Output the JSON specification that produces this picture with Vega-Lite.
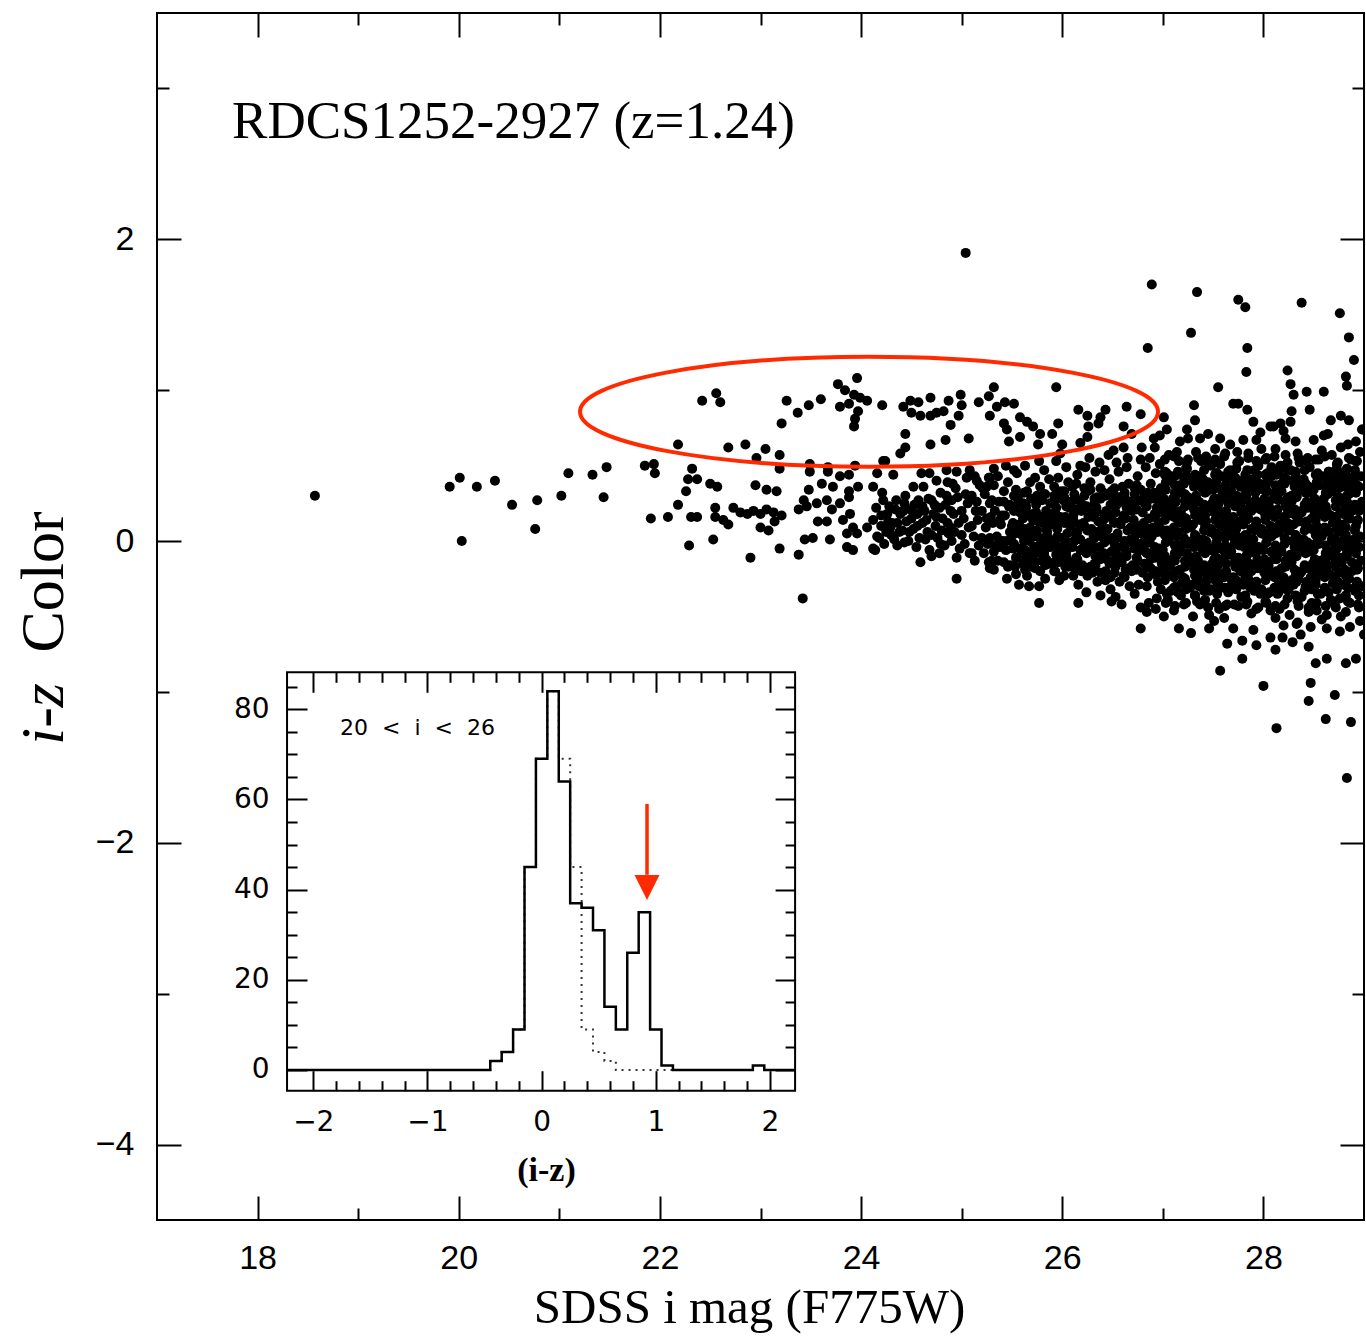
{
"$schema":"https://vega.github.io/schema/vega-lite/v6.json",
"width":1207,"height":1207,
"autosize":{"type":"none"},
"padding":{"left":157,"top":13,"right":2,"bottom":121},
"background":"white",
"config":{"view":{"stroke":"black","strokeWidth":2},"axis":{"grid":false,"domain":false,"tickColor":"black","tickWidth":2,"labelColor":"black","titleColor":"black","labelFlush":false,"labelOverlap":false,"zindex":1}},
"datasets":{
"hist":[{"hx":-2.23,"n":0},{"hx":-0.45,"n":2},{"hx":-0.35,"n":4},{"hx":-0.25,"n":9},{"hx":-0.15,"n":45},{"hx":-0.05,"n":69},{"hx":0.05,"n":84},{"hx":0.15,"n":64},{"hx":0.25,"n":37},{"hx":0.35,"n":36},{"hx":0.45,"n":31},{"hx":0.55,"n":14},{"hx":0.65,"n":9},{"hx":0.75,"n":26},{"hx":0.85,"n":35},{"hx":0.95,"n":9},{"hx":1.05,"n":1},{"hx":1.15,"n":0},{"hx":1.85,"n":1},{"hx":1.95,"n":0},{"hx":2.22,"n":0}],
"mirror":[{"hx":-2.23,"n":0},{"hx":-0.45,"n":2},{"hx":-0.35,"n":4},{"hx":-0.25,"n":9},{"hx":-0.15,"n":45},{"hx":-0.05,"n":69},{"hx":0.05,"n":84},{"hx":0.15,"n":69},{"hx":0.25,"n":45},{"hx":0.35,"n":9},{"hx":0.45,"n":4},{"hx":0.55,"n":2},{"hx":0.65,"n":0},{"hx":1.15,"n":0}],
"pts":[
{"m":18.57,"c":0.30},{"m":19.91,"c":0.36},{"m":20.01,"c":0.42},{"m":20.03,"c":0.00},{"m":20.18,"c":0.36},{"m":20.36,"c":0.40},{"m":20.53,"c":0.24},{"m":20.78,"c":0.27},{"m":20.76,"c":0.08},{"m":21.02,"c":0.30},{"m":21.09,"c":0.45},{"m":21.33,"c":0.44},{"m":21.44,"c":0.29},{"m":21.47,"c":0.49},{"m":21.85,"c":0.50},{"m":21.94,"c":0.51},{"m":21.95,"c":0.45},{"m":21.91,"c":0.15},{"m":22.08,"c":0.16},{"m":22.18,"c":0.64},{"m":22.29,"c":-0.03},{"m":22.32,"c":0.48},{"m":22.26,"c":0.33},{"m":22.18,"c":0.24},{"m":22.28,"c":0.41},{"m":22.37,"c":0.41},{"m":22.31,"c":0.16},{"m":22.37,"c":0.16},
{"m":22.42,"c":0.93},{"m":22.56,"c":0.98},{"m":22.60,"c":0.92},{"m":23.26,"c":0.93},{"m":23.21,"c":0.78},{"m":23.37,"c":0.85},{"m":23.48,"c":0.90},{"m":23.60,"c":0.94},{"m":23.96,"c":1.08},{"m":23.77,"c":1.04},{"m":23.84,"c":1.00},{"m":23.79,"c":0.89},{"m":23.88,"c":0.91},{"m":23.93,"c":0.97},{"m":23.99,"c":0.95},{"m":24.06,"c":0.93},{"m":23.97,"c":0.86},{"m":23.94,"c":0.81},{"m":23.93,"c":0.76},{"m":24.21,"c":0.90},{"m":24.42,"c":0.89},{"m":24.49,"c":0.93},{"m":24.57,"c":0.92},{"m":24.69,"c":0.95},{"m":24.87,"c":0.93},{"m":24.50,"c":0.85},{"m":24.59,"c":0.83},{"m":24.69,"c":0.83},{"m":24.75,"c":0.85},{"m":24.82,"c":0.86},{"m":24.99,"c":0.97},{"m":25.00,"c":0.90},{"m":24.97,"c":0.83},{"m":24.89,"c":0.77},{"m":25.17,"c":0.92},{"m":25.27,"c":0.96},{"m":25.32,"c":1.02},{"m":25.35,"c":0.89},{"m":25.28,"c":0.83},{"m":25.07,"c":0.68},{"m":24.84,"c":0.67},{"m":24.69,"c":0.64},{"m":24.44,"c":0.71},{"m":24.44,"c":0.62},{"m":24.39,"c":0.58},{"m":24.22,"c":0.53},
{"m":22.68,"c":0.62},{"m":22.85,"c":0.64},{"m":23.05,"c":0.61},{"m":23.19,"c":0.57},{"m":22.96,"c":0.55},{"m":23.19,"c":0.48},{"m":23.49,"c":0.51},{"m":23.49,"c":0.46},{"m":23.67,"c":0.49},{"m":23.67,"c":0.46},{"m":23.94,"c":0.50},{"m":23.88,"c":0.44},{"m":23.79,"c":0.43},{"m":24.16,"c":0.45},{"m":24.32,"c":0.44},{"m":24.24,"c":0.53},{"m":24.60,"c":0.45},{"m":24.85,"c":0.47},{"m":24.95,"c":0.46},{"m":25.08,"c":0.47},{"m":25.15,"c":0.40},{"m":25.25,"c":0.36},{"m":25.28,"c":0.42},
{"m":22.50,"c":0.38},{"m":22.57,"c":0.36},{"m":22.55,"c":0.22},{"m":22.55,"c":0.16},{"m":22.63,"c":0.14},{"m":22.68,"c":0.11},{"m":22.73,"c":0.22},{"m":22.80,"c":0.19},{"m":22.87,"c":0.18},{"m":22.93,"c":0.20},{"m":23.00,"c":0.18},{"m":23.06,"c":0.21},{"m":23.13,"c":0.19},{"m":23.21,"c":0.17},{"m":22.95,"c":0.37},{"m":23.06,"c":0.34},{"m":23.16,"c":0.33},{"m":23.00,"c":0.09},{"m":23.08,"c":0.07},{"m":23.14,"c":0.13},{"m":22.53,"c":0.01},{"m":22.90,"c":-0.11},{"m":23.19,"c":-0.05},{"m":23.38,"c":-0.09},{"m":23.42,"c":-0.38},
{"m":23.38,"c":0.21},{"m":23.43,"c":0.27},{"m":23.48,"c":0.34},{"m":23.46,"c":0.23},{"m":23.56,"c":0.25},{"m":23.66,"c":0.27},{"m":23.71,"c":0.21},{"m":23.79,"c":0.25},{"m":23.57,"c":0.13},{"m":23.66,"c":0.13},{"m":23.44,"c":0.01},{"m":23.52,"c":0.02},{"m":23.69,"c":0.01},{"m":23.86,"c":-0.04},{"m":23.92,"c":-0.06},{"m":23.61,"c":0.38},{"m":23.72,"c":0.36},{"m":23.88,"c":0.33},{"m":23.88,"c":0.29},{"m":23.97,"c":0.36},{"m":24.12,"c":0.36},{"m":24.21,"c":0.32},{"m":23.82,"c":0.14},{"m":23.89,"c":0.18},{"m":23.92,"c":0.09},{"m":23.86,"c":0.05},{"m":23.96,"c":0.05},{"m":24.06,"c":0.09},{"m":24.12,"c":0.14},{"m":24.16,"c":0.03},{"m":24.12,"c":-0.05},{"m":24.26,"c":0.18},{"m":24.29,"c":0.09},{"m":24.33,"c":0.01},{"m":24.39,"c":0.18},{"m":24.43,"c":0.25},{"m":24.41,"c":0.07},{"m":24.52,"c":0.36},{"m":24.56,"c":0.18},{"m":24.62,"c":0.36},{"m":24.64,"c":0.01},{"m":24.59,"c":-0.14},{"m":24.72,"c":0.18},{"m":24.79,"c":0.32},{"m":24.89,"c":0.09},{"m":24.95,"c":-0.25},{"m":24.70,"c":-0.10},{"m":24.78,"c":-0.08},{"m":24.14,"c":-0.06},
{"m":24.18,"c":0.02},{"m":24.15,"c":0.22},{"m":24.23,"c":-0.02},{"m":24.25,"c":0.06},{"m":24.22,"c":0.27},{"m":24.31,"c":0.12},{"m":24.34,"c":0.21},{"m":24.36,"c":-0.03},{"m":24.38,"c":0.06},{"m":24.45,"c":0.13},{"m":24.47,"c":0.00},{"m":24.44,"c":0.30},{"m":24.49,"c":0.21},{"m":24.52,"c":0.08},{"m":24.55,"c":-0.04},{"m":24.57,"c":0.27},{"m":24.61,"c":0.12},{"m":24.63,"c":0.20},{"m":24.66,"c":0.06},{"m":24.68,"c":-0.06},{"m":24.70,"c":0.27},{"m":24.74,"c":0.10},{"m":24.76,"c":0.02},{"m":24.78,"c":0.22},{"m":24.81,"c":0.15},{"m":24.83,"c":-0.03},{"m":24.85,"c":0.30},{"m":24.87,"c":0.05},{"m":24.89,"c":0.20},{"m":24.91,"c":0.38},{"m":24.86,"c":0.39},{"m":24.75,"c":0.40},{"m":24.68,"c":0.45},
{"m":24.20,"c":0.10},{"m":24.20,"c":0.17},{"m":24.27,"c":0.13},{"m":24.28,"c":0.23},{"m":24.30,"c":0.04},{"m":24.35,"c":0.27},{"m":24.36,"c":0.12},{"m":24.42,"c":0.20},{"m":24.43,"c":-0.01},{"m":24.48,"c":0.06},{"m":24.50,"c":0.15},{"m":24.53,"c":0.24},{"m":24.56,"c":0.10},{"m":24.58,"c":0.02},{"m":24.61,"c":0.23},{"m":24.65,"c":0.14},{"m":24.67,"c":0.28},{"m":24.70,"c":0.04},{"m":24.73,"c":0.24},{"m":24.75,"c":0.16},{"m":24.79,"c":-0.02},{"m":24.80,"c":0.07},{"m":24.84,"c":0.24},{"m":24.86,"c":0.12},{"m":24.90,"c":0.00},{"m":24.90,"c":0.27},{"m":25.00,"c":0.04},{"m":25.00,"c":0.20},{"m":25.10,"c":-0.08},{"m":25.10,"c":0.10},{"m":25.10,"c":0.30},{"m":25.20,"c":0.02},{"m":25.20,"c":0.20},{"m":25.21,"c":0.35},
{"m":25.04,"c":1.91},{"m":26.89,"c":1.70},{"m":27.34,"c":1.65},{"m":27.75,"c":1.60},{"m":27.82,"c":1.55},{"m":28.38,"c":1.58},{"m":28.76,"c":1.51},{"m":27.28,"c":1.38},{"m":26.85,"c":1.28},{"m":27.84,"c":1.28},{"m":28.85,"c":1.35},{"m":28.90,"c":1.20},{"m":27.83,"c":1.12},{"m":28.24,"c":1.13},{"m":28.82,"c":1.09},{"m":28.83,"c":1.03},{"m":27.55,"c":1.02},{"m":25.94,"c":1.02},{"m":28.27,"c":1.04},{"m":28.30,"c":0.97},{"m":28.43,"c":0.99},{"m":28.60,"c":0.99},{"m":27.31,"c":0.90},{"m":27.70,"c":0.91},{"m":27.75,"c":0.91},{"m":27.84,"c":0.87},{"m":27.32,"c":0.80},{"m":27.90,"c":0.79},{"m":28.28,"c":0.86},{"m":28.46,"c":0.87},{"m":28.67,"c":0.80},{"m":28.77,"c":0.83},{"m":28.85,"c":0.80},{"m":28.07,"c":0.76},{"m":28.17,"c":0.78},{"m":28.27,"c":0.79},{"m":28.99,"c":0.74},
{"m":25.43,"c":0.92},{"m":25.52,"c":0.91},{"m":25.42,"c":0.78},{"m":25.45,"c":0.74},{"m":25.58,"c":0.82},{"m":25.65,"c":0.79},{"m":25.71,"c":0.76},{"m":25.78,"c":0.71},{"m":25.90,"c":0.71},{"m":25.96,"c":0.78},{"m":26.16,"c":0.87},{"m":26.25,"c":0.83},{"m":26.26,"c":0.76},{"m":26.25,"c":0.69},{"m":26.18,"c":0.65},{"m":26.38,"c":0.82},{"m":26.43,"c":0.87},{"m":26.36,"c":0.78},{"m":26.64,"c":0.89},{"m":26.78,"c":0.84},{"m":26.61,"c":0.76},{"m":26.69,"c":0.71},{"m":25.47,"c":0.66},{"m":25.58,"c":0.69},{"m":25.76,"c":0.64},{"m":26.00,"c":0.64},{"m":25.98,"c":0.58},{"m":25.32,"c":0.48},{"m":25.52,"c":0.47},
{"m":26.51,"c":0.60},{"m":26.61,"c":0.62},{"m":26.79,"c":0.62},{"m":26.91,"c":0.68},{"m":27.01,"c":0.82},{"m":27.04,"c":0.74},{"m":26.97,"c":0.70},{"m":27.17,"c":0.66},{"m":27.25,"c":0.68},{"m":27.24,"c":0.74},{"m":27.37,"c":0.68},{"m":27.45,"c":0.71},{"m":27.57,"c":0.68},{"m":27.67,"c":0.64},{"m":27.80,"c":0.67},{"m":27.93,"c":0.67},{"m":27.97,"c":0.72},{"m":28.10,"c":0.76},{"m":28.22,"c":0.68},{"m":28.20,"c":0.73},{"m":28.32,"c":0.66},{"m":28.50,"c":0.67},{"m":28.60,"c":0.70},{"m":28.64,"c":0.71},{"m":28.84,"c":0.64},{"m":28.92,"c":0.66},{"m":28.98,"c":0.74},
{"m":25.28,"c":-0.18},{"m":25.45,"c":-0.25},{"m":25.57,"c":-0.29},{"m":25.67,"c":-0.30},{"m":25.77,"c":-0.30},{"m":25.77,"c":-0.41},{"m":26.16,"c":-0.41},{"m":26.38,"c":-0.36},{"m":26.49,"c":-0.40},{"m":26.59,"c":-0.42},{"m":26.78,"c":-0.58},{"m":26.84,"c":-0.47},{"m":27.01,"c":-0.50},{"m":26.78,"c":-0.44},{"m":26.93,"c":-0.45},{"m":27.11,"c":-0.46},{"m":27.16,"c":-0.58},{"m":27.28,"c":-0.61},{"m":27.30,"c":-0.50},{"m":27.46,"c":-0.49},{"m":27.51,"c":-0.53},{"m":27.46,"c":-0.58},{"m":27.61,"c":-0.51},{"m":27.57,"c":-0.86},{"m":27.64,"c":-0.68},{"m":27.70,"c":-0.58},{"m":27.79,"c":-0.66},{"m":27.79,"c":-0.78},{"m":27.90,"c":-0.59},{"m":27.93,"c":-0.69},{"m":28.00,"c":-0.96},{"m":28.07,"c":-0.64},{"m":28.12,"c":-0.72},{"m":28.19,"c":-0.64},{"m":28.29,"c":-0.67},{"m":28.37,"c":-0.62},{"m":28.45,"c":-0.70},{"m":28.13,"c":-1.24},{"m":28.47,"c":-0.94},{"m":28.45,"c":-1.06},{"m":28.62,"c":-1.18},{"m":28.71,"c":-1.02},{"m":28.87,"c":-1.20},{"m":28.83,"c":-1.57},{"m":28.82,"c":-0.81},{"m":28.92,"c":-0.78},{"m":28.52,"c":-0.81},{"m":28.63,"c":-0.78},{"m":28.63,"c":-0.58},{"m":28.76,"c":-0.60},{"m":28.86,"c":-0.57},{"m":29.00,"c":-0.62},{"m":28.20,"c":-0.56},{"m":28.33,"c":-0.55},{"m":28.47,"c":-0.57},
{"m":24.95,"c":-0.11},{"m":24.98,"c":-0.05},{"m":24.93,"c":0.06},{"m":24.97,"c":0.12},{"m":24.92,"c":0.18},{"m":24.96,"c":0.29},{"m":24.94,"c":0.35},
{"m":25.08,"c":-0.08},{"m":25.03,"c":-0.02},{"m":25.07,"c":0.09},{"m":25.02,"c":0.15},{"m":25.06,"c":0.25},{"m":25.04,"c":0.31},{"m":25.05,"c":0.42},
{"m":25.13,"c":-0.13},{"m":25.17,"c":-0.03},{"m":25.12,"c":0.03},{"m":25.16,"c":0.14},{"m":25.14,"c":0.20},{"m":25.15,"c":0.26},{"m":25.18,"c":0.37},{"m":25.13,"c":0.43},
{"m":25.27,"c":-0.14},{"m":25.22,"c":-0.08},{"m":25.26,"c":-0.02},{"m":25.24,"c":0.09},{"m":25.25,"c":0.15},{"m":25.28,"c":0.25},{"m":25.23,"c":0.31},{"m":25.27,"c":0.42},
{"m":25.32,"c":-0.19},{"m":25.36,"c":-0.13},{"m":25.34,"c":-0.03},{"m":25.35,"c":0.03},{"m":25.38,"c":0.14},{"m":25.33,"c":0.20},{"m":25.37,"c":0.26},{"m":25.32,"c":0.37},{"m":25.36,"c":0.43},
{"m":25.46,"c":-0.17},{"m":25.44,"c":-0.06},{"m":25.45,"c":0.00},{"m":25.48,"c":0.06},{"m":25.43,"c":0.17},{"m":25.47,"c":0.23},{"m":25.42,"c":0.33},{"m":25.46,"c":0.39},{"m":25.44,"c":0.50},
{"m":25.54,"c":-0.22},{"m":25.55,"c":-0.11},{"m":25.58,"c":-0.05},{"m":25.53,"c":0.05},{"m":25.57,"c":0.11},{"m":25.52,"c":0.22},{"m":25.56,"c":0.28},{"m":25.54,"c":0.34},{"m":25.55,"c":0.45},
{"m":25.65,"c":-0.23},{"m":25.68,"c":-0.17},{"m":25.63,"c":-0.06},{"m":25.67,"c":0.00},{"m":25.62,"c":0.06},{"m":25.66,"c":0.17},{"m":25.64,"c":0.23},{"m":25.65,"c":0.33},{"m":25.68,"c":0.39},{"m":25.63,"c":0.50},
{"m":25.78,"c":-0.20},{"m":25.73,"c":-0.14},{"m":25.77,"c":-0.03},{"m":25.72,"c":0.03},{"m":25.76,"c":0.13},{"m":25.74,"c":0.19},{"m":25.75,"c":0.30},{"m":25.78,"c":0.36},{"m":25.73,"c":0.42},{"m":25.77,"c":0.53},
{"m":25.83,"c":-0.25},{"m":25.87,"c":-0.15},{"m":25.82,"c":-0.09},{"m":25.86,"c":0.02},{"m":25.84,"c":0.08},{"m":25.85,"c":0.14},{"m":25.88,"c":0.25},{"m":25.83,"c":0.31},{"m":25.87,"c":0.41},{"m":25.82,"c":0.47},
{"m":25.97,"c":-0.26},{"m":25.92,"c":-0.20},{"m":25.96,"c":-0.14},{"m":25.94,"c":-0.03},{"m":25.95,"c":0.03},{"m":25.98,"c":0.13},{"m":25.93,"c":0.19},{"m":25.97,"c":0.30},{"m":25.92,"c":0.36},{"m":25.96,"c":0.42},{"m":25.94,"c":0.53},
{"m":26.02,"c":-0.23},{"m":26.06,"c":-0.17},{"m":26.04,"c":-0.07},{"m":26.05,"c":-0.01},{"m":26.08,"c":0.10},{"m":26.03,"c":0.16},{"m":26.07,"c":0.22},{"m":26.02,"c":0.33},{"m":26.06,"c":0.39},{"m":26.04,"c":0.49},
{"m":26.16,"c":-0.29},{"m":26.14,"c":-0.18},{"m":26.15,"c":-0.12},{"m":26.18,"c":-0.06},{"m":26.13,"c":0.05},{"m":26.17,"c":0.11},{"m":26.12,"c":0.21},{"m":26.16,"c":0.27},{"m":26.14,"c":0.38},{"m":26.15,"c":0.44},{"m":26.18,"c":0.50},
{"m":26.24,"c":-0.34},{"m":26.25,"c":-0.23},{"m":26.28,"c":-0.17},{"m":26.23,"c":-0.07},{"m":26.27,"c":-0.01},{"m":26.22,"c":0.10},{"m":26.26,"c":0.16},{"m":26.24,"c":0.22},{"m":26.25,"c":0.33},{"m":26.28,"c":0.39},{"m":26.23,"c":0.49},{"m":26.27,"c":0.55},
{"m":26.35,"c":-0.27},{"m":26.38,"c":-0.21},{"m":26.33,"c":-0.10},{"m":26.37,"c":-0.04},{"m":26.32,"c":0.02},{"m":26.36,"c":0.13},{"m":26.34,"c":0.19},{"m":26.35,"c":0.29},{"m":26.38,"c":0.35},{"m":26.33,"c":0.46},{"m":26.37,"c":0.52},
{"m":26.48,"c":-0.32},{"m":26.43,"c":-0.26},{"m":26.47,"c":-0.15},{"m":26.42,"c":-0.09},{"m":26.46,"c":0.01},{"m":26.44,"c":0.07},{"m":26.45,"c":0.18},{"m":26.48,"c":0.24},{"m":26.43,"c":0.30},{"m":26.47,"c":0.41},{"m":26.42,"c":0.47},{"m":26.46,"c":0.57},
{"m":26.53,"c":-0.37},{"m":26.57,"c":-0.27},{"m":26.52,"c":-0.21},{"m":26.56,"c":-0.10},{"m":26.54,"c":-0.04},{"m":26.55,"c":0.02},{"m":26.58,"c":0.13},{"m":26.53,"c":0.19},{"m":26.57,"c":0.29},{"m":26.52,"c":0.35},{"m":26.56,"c":0.46},{"m":26.54,"c":0.52},
{"m":26.67,"c":-0.30},{"m":26.62,"c":-0.24},{"m":26.66,"c":-0.18},{"m":26.64,"c":-0.07},{"m":26.65,"c":-0.01},{"m":26.68,"c":0.09},{"m":26.63,"c":0.15},{"m":26.67,"c":0.26},{"m":26.62,"c":0.32},{"m":26.66,"c":0.38},{"m":26.64,"c":0.49},{"m":26.65,"c":0.55},
{"m":26.72,"c":-0.35},{"m":26.76,"c":-0.29},{"m":26.74,"c":-0.19},{"m":26.75,"c":-0.13},{"m":26.78,"c":-0.02},{"m":26.73,"c":0.04},{"m":26.77,"c":0.10},{"m":26.72,"c":0.21},{"m":26.76,"c":0.27},{"m":26.74,"c":0.37},{"m":26.75,"c":0.43},{"m":26.78,"c":0.54},
{"m":26.86,"c":-0.41},{"m":26.84,"c":-0.30},{"m":26.85,"c":-0.24},{"m":26.88,"c":-0.18},{"m":26.83,"c":-0.07},{"m":26.87,"c":-0.01},{"m":26.82,"c":0.09},{"m":26.86,"c":0.15},{"m":26.84,"c":0.26},{"m":26.85,"c":0.32},{"m":26.88,"c":0.38},{"m":26.83,"c":0.49},{"m":26.87,"c":0.55},
{"m":26.94,"c":-0.38},{"m":26.95,"c":-0.27},{"m":26.98,"c":-0.21},{"m":26.93,"c":-0.11},{"m":26.97,"c":-0.05},{"m":26.92,"c":0.06},{"m":26.96,"c":0.12},{"m":26.94,"c":0.18},{"m":26.95,"c":0.29},{"m":26.98,"c":0.35},{"m":26.93,"c":0.45},{"m":26.97,"c":0.51},{"m":26.92,"c":0.62},
{"m":27.05,"c":-0.39},{"m":27.08,"c":-0.33},{"m":27.03,"c":-0.22},{"m":27.07,"c":-0.16},{"m":27.02,"c":-0.10},{"m":27.06,"c":0.01},{"m":27.04,"c":0.07},{"m":27.05,"c":0.17},{"m":27.08,"c":0.23},{"m":27.03,"c":0.34},{"m":27.07,"c":0.40},{"m":27.02,"c":0.46},{"m":27.06,"c":0.57},
{"m":27.18,"c":-0.36},{"m":27.13,"c":-0.30},{"m":27.17,"c":-0.19},{"m":27.12,"c":-0.13},{"m":27.16,"c":-0.03},{"m":27.14,"c":0.03},{"m":27.15,"c":0.14},{"m":27.18,"c":0.20},{"m":27.13,"c":0.26},{"m":27.17,"c":0.37},{"m":27.12,"c":0.43},{"m":27.16,"c":0.53},{"m":27.14,"c":0.59},
{"m":27.23,"c":-0.41},{"m":27.27,"c":-0.31},{"m":27.22,"c":-0.25},{"m":27.26,"c":-0.14},{"m":27.24,"c":-0.08},{"m":27.25,"c":-0.02},{"m":27.28,"c":0.09},{"m":27.23,"c":0.15},{"m":27.27,"c":0.25},{"m":27.22,"c":0.31},{"m":27.26,"c":0.42},{"m":27.24,"c":0.48},{"m":27.25,"c":0.54},
{"m":27.37,"c":-0.42},{"m":27.32,"c":-0.36},{"m":27.36,"c":-0.30},{"m":27.34,"c":-0.19},{"m":27.35,"c":-0.13},{"m":27.38,"c":-0.03},{"m":27.33,"c":0.03},{"m":27.37,"c":0.14},{"m":27.32,"c":0.20},{"m":27.36,"c":0.26},{"m":27.34,"c":0.37},{"m":27.35,"c":0.43},{"m":27.38,"c":0.53},{"m":27.33,"c":0.59},
{"m":27.42,"c":-0.39},{"m":27.46,"c":-0.33},{"m":27.44,"c":-0.23},{"m":27.45,"c":-0.17},{"m":27.48,"c":-0.06},{"m":27.43,"c":0.00},{"m":27.47,"c":0.06},{"m":27.42,"c":0.17},{"m":27.46,"c":0.23},{"m":27.44,"c":0.33},{"m":27.45,"c":0.39},{"m":27.48,"c":0.50},{"m":27.43,"c":0.56},
{"m":27.56,"c":-0.45},{"m":27.54,"c":-0.34},{"m":27.55,"c":-0.28},{"m":27.58,"c":-0.22},{"m":27.53,"c":-0.11},{"m":27.57,"c":-0.05},{"m":27.52,"c":0.05},{"m":27.56,"c":0.11},{"m":27.54,"c":0.22},{"m":27.55,"c":0.28},{"m":27.58,"c":0.34},{"m":27.53,"c":0.45},{"m":27.57,"c":0.51},{"m":27.52,"c":0.61},
{"m":27.64,"c":-0.42},{"m":27.65,"c":-0.31},{"m":27.68,"c":-0.25},{"m":27.63,"c":-0.15},{"m":27.67,"c":-0.09},{"m":27.62,"c":0.02},{"m":27.66,"c":0.08},{"m":27.64,"c":0.14},{"m":27.65,"c":0.25},{"m":27.68,"c":0.31},{"m":27.63,"c":0.41},{"m":27.67,"c":0.47},{"m":27.62,"c":0.58},
{"m":27.75,"c":-0.43},{"m":27.78,"c":-0.37},{"m":27.73,"c":-0.26},{"m":27.77,"c":-0.20},{"m":27.72,"c":-0.14},{"m":27.76,"c":-0.03},{"m":27.74,"c":0.03},{"m":27.75,"c":0.13},{"m":27.78,"c":0.19},{"m":27.73,"c":0.30},{"m":27.77,"c":0.36},{"m":27.72,"c":0.42},{"m":27.76,"c":0.53},{"m":27.74,"c":0.59},
{"m":27.88,"c":-0.48},{"m":27.83,"c":-0.42},{"m":27.87,"c":-0.31},{"m":27.82,"c":-0.25},{"m":27.86,"c":-0.15},{"m":27.84,"c":-0.09},{"m":27.85,"c":0.02},{"m":27.88,"c":0.08},{"m":27.83,"c":0.14},{"m":27.87,"c":0.25},{"m":27.82,"c":0.31},{"m":27.86,"c":0.41},{"m":27.84,"c":0.47},{"m":27.85,"c":0.58},
{"m":27.93,"c":-0.45},{"m":27.97,"c":-0.35},{"m":27.92,"c":-0.29},{"m":27.96,"c":-0.18},{"m":27.94,"c":-0.12},{"m":27.95,"c":-0.06},{"m":27.98,"c":0.05},{"m":27.93,"c":0.11},{"m":27.97,"c":0.21},{"m":27.92,"c":0.27},{"m":27.96,"c":0.38},{"m":27.94,"c":0.44},{"m":27.95,"c":0.50},{"m":27.98,"c":0.61},
{"m":28.07,"c":-0.46},{"m":28.02,"c":-0.40},{"m":28.06,"c":-0.34},{"m":28.04,"c":-0.23},{"m":28.05,"c":-0.17},{"m":28.08,"c":-0.07},{"m":28.03,"c":-0.01},{"m":28.07,"c":0.10},{"m":28.02,"c":0.16},{"m":28.06,"c":0.22},{"m":28.04,"c":0.33},{"m":28.05,"c":0.39},{"m":28.08,"c":0.49},{"m":28.03,"c":0.55},
{"m":28.12,"c":-0.51},{"m":28.16,"c":-0.45},{"m":28.14,"c":-0.35},{"m":28.15,"c":-0.29},{"m":28.18,"c":-0.18},{"m":28.13,"c":-0.12},{"m":28.17,"c":-0.06},{"m":28.12,"c":0.05},{"m":28.16,"c":0.11},{"m":28.14,"c":0.21},{"m":28.15,"c":0.27},{"m":28.18,"c":0.38},{"m":28.13,"c":0.44},{"m":28.17,"c":0.50},{"m":28.12,"c":0.61},
{"m":28.26,"c":-0.49},{"m":28.24,"c":-0.38},{"m":28.25,"c":-0.32},{"m":28.28,"c":-0.26},{"m":28.23,"c":-0.15},{"m":28.27,"c":-0.09},{"m":28.22,"c":0.01},{"m":28.26,"c":0.07},{"m":28.24,"c":0.18},{"m":28.25,"c":0.24},{"m":28.28,"c":0.30},{"m":28.23,"c":0.41},{"m":28.27,"c":0.47},{"m":28.22,"c":0.57},
{"m":28.34,"c":-0.54},{"m":28.35,"c":-0.43},{"m":28.38,"c":-0.37},{"m":28.33,"c":-0.27},{"m":28.37,"c":-0.21},{"m":28.32,"c":-0.10},{"m":28.36,"c":-0.04},{"m":28.34,"c":0.02},{"m":28.35,"c":0.13},{"m":28.38,"c":0.19},{"m":28.33,"c":0.29},{"m":28.37,"c":0.35},{"m":28.32,"c":0.46},{"m":28.36,"c":0.52},{"m":28.34,"c":0.58},
{"m":28.45,"c":-0.47},{"m":28.48,"c":-0.41},{"m":28.43,"c":-0.30},{"m":28.47,"c":-0.24},{"m":28.42,"c":-0.18},{"m":28.46,"c":-0.07},{"m":28.44,"c":-0.01},{"m":28.45,"c":0.09},{"m":28.48,"c":0.15},{"m":28.43,"c":0.26},{"m":28.47,"c":0.32},{"m":28.42,"c":0.38},{"m":28.46,"c":0.49},{"m":28.44,"c":0.55},
{"m":28.58,"c":-0.52},{"m":28.53,"c":-0.46},{"m":28.57,"c":-0.35},{"m":28.52,"c":-0.29},{"m":28.56,"c":-0.19},{"m":28.54,"c":-0.13},{"m":28.55,"c":-0.02},{"m":28.58,"c":0.04},{"m":28.53,"c":0.10},{"m":28.57,"c":0.21},{"m":28.52,"c":0.27},{"m":28.56,"c":0.37},{"m":28.54,"c":0.43},{"m":28.55,"c":0.54},{"m":28.58,"c":0.60},
{"m":28.63,"c":-0.49},{"m":28.67,"c":-0.39},{"m":28.62,"c":-0.33},{"m":28.66,"c":-0.22},{"m":28.64,"c":-0.16},{"m":28.65,"c":-0.10},{"m":28.68,"c":0.01},{"m":28.63,"c":0.07},{"m":28.67,"c":0.17},{"m":28.62,"c":0.23},{"m":28.66,"c":0.34},{"m":28.64,"c":0.40},{"m":28.65,"c":0.46},{"m":28.68,"c":0.57},
{"m":28.77,"c":-0.50},{"m":28.72,"c":-0.44},{"m":28.76,"c":-0.38},{"m":28.74,"c":-0.27},{"m":28.75,"c":-0.21},{"m":28.78,"c":-0.11},{"m":28.73,"c":-0.05},{"m":28.77,"c":0.06},{"m":28.72,"c":0.12},{"m":28.76,"c":0.18},{"m":28.74,"c":0.29},{"m":28.75,"c":0.35},{"m":28.78,"c":0.45},{"m":28.73,"c":0.51},{"m":28.77,"c":0.62},
{"m":28.82,"c":-0.47},{"m":28.86,"c":-0.41},{"m":28.84,"c":-0.31},{"m":28.85,"c":-0.25},{"m":28.88,"c":-0.14},{"m":28.83,"c":-0.08},{"m":28.87,"c":-0.02},{"m":28.82,"c":0.09},{"m":28.86,"c":0.15},{"m":28.84,"c":0.25},{"m":28.85,"c":0.31},{"m":28.88,"c":0.42},{"m":28.83,"c":0.48},{"m":28.87,"c":0.54},
{"m":28.96,"c":-0.53},{"m":28.94,"c":-0.42},{"m":28.95,"c":-0.36},{"m":28.98,"c":-0.30},{"m":28.93,"c":-0.19},{"m":28.97,"c":-0.13},{"m":28.92,"c":-0.03},{"m":28.96,"c":0.03},{"m":28.94,"c":0.14},{"m":28.95,"c":0.20},{"m":28.98,"c":0.26},{"m":28.93,"c":0.37},{"m":28.97,"c":0.43},{"m":28.92,"c":0.53},{"m":28.96,"c":0.59},
{"m":25.30,"c":-0.13},{"m":25.32,"c":-0.07},{"m":25.28,"c":0.02},{"m":25.31,"c":0.12},{"m":25.29,"c":0.16},{"m":25.30,"c":0.27},
{"m":25.42,"c":-0.14},{"m":25.38,"c":-0.04},{"m":25.41,"c":0.00},{"m":25.39,"c":0.11},{"m":25.40,"c":0.17},{"m":25.42,"c":0.26},
{"m":25.48,"c":-0.16},{"m":25.51,"c":-0.05},{"m":25.49,"c":0.01},{"m":25.50,"c":0.10},{"m":25.52,"c":0.20},{"m":25.48,"c":0.24},
{"m":25.61,"c":-0.15},{"m":25.59,"c":-0.06},{"m":25.60,"c":0.04},{"m":25.62,"c":0.08},{"m":25.58,"c":0.19},{"m":25.61,"c":0.25},
{"m":25.69,"c":-0.12},{"m":25.70,"c":-0.08},{"m":25.72,"c":0.03},{"m":25.68,"c":0.09},{"m":25.71,"c":0.18},{"m":25.69,"c":0.28},
{"m":25.80,"c":-0.13},{"m":25.82,"c":-0.07},{"m":25.78,"c":0.02},{"m":25.81,"c":0.12},{"m":25.79,"c":0.16},{"m":25.80,"c":0.27},
{"m":25.92,"c":-0.14},{"m":25.88,"c":-0.04},{"m":25.91,"c":0.00},{"m":25.89,"c":0.11},{"m":25.90,"c":0.17},{"m":25.92,"c":0.26},
{"m":25.98,"c":-0.24},{"m":26.01,"c":-0.13},{"m":25.99,"c":-0.07},{"m":26.00,"c":0.02},{"m":26.02,"c":0.12},{"m":25.98,"c":0.16},{"m":26.01,"c":0.27},{"m":25.99,"c":0.33},
{"m":26.11,"c":-0.23},{"m":26.09,"c":-0.14},{"m":26.10,"c":-0.04},{"m":26.12,"c":0.00},{"m":26.08,"c":0.11},{"m":26.11,"c":0.17},{"m":26.09,"c":0.26},{"m":26.10,"c":0.36},
{"m":26.19,"c":-0.20},{"m":26.20,"c":-0.16},{"m":26.22,"c":-0.05},{"m":26.18,"c":0.01},{"m":26.21,"c":0.10},{"m":26.19,"c":0.20},{"m":26.20,"c":0.24},{"m":26.22,"c":0.35},
{"m":26.30,"c":-0.21},{"m":26.32,"c":-0.15},{"m":26.28,"c":-0.06},{"m":26.31,"c":0.04},{"m":26.29,"c":0.08},{"m":26.30,"c":0.19},{"m":26.32,"c":0.25},{"m":26.28,"c":0.34},
{"m":26.42,"c":-0.22},{"m":26.38,"c":-0.12},{"m":26.41,"c":-0.08},{"m":26.39,"c":0.03},{"m":26.40,"c":0.09},{"m":26.42,"c":0.18},{"m":26.38,"c":0.28},{"m":26.41,"c":0.32},
{"m":26.48,"c":-0.24},{"m":26.51,"c":-0.13},{"m":26.49,"c":-0.07},{"m":26.50,"c":0.02},{"m":26.52,"c":0.12},{"m":26.48,"c":0.16},{"m":26.51,"c":0.27},{"m":26.49,"c":0.33},
{"m":26.61,"c":-0.23},{"m":26.59,"c":-0.14},{"m":26.60,"c":-0.04},{"m":26.62,"c":0.00},{"m":26.58,"c":0.11},{"m":26.61,"c":0.17},{"m":26.59,"c":0.26},{"m":26.60,"c":0.36},
{"m":26.69,"c":-0.20},{"m":26.70,"c":-0.16},{"m":26.72,"c":-0.05},{"m":26.68,"c":0.01},{"m":26.71,"c":0.10},{"m":26.69,"c":0.20},{"m":26.70,"c":0.24},{"m":26.72,"c":0.35},
{"m":26.80,"c":-0.21},{"m":26.82,"c":-0.15},{"m":26.78,"c":-0.06},{"m":26.81,"c":0.04},{"m":26.79,"c":0.08},{"m":26.80,"c":0.19},{"m":26.82,"c":0.25},{"m":26.78,"c":0.34},
{"m":26.92,"c":-0.22},{"m":26.88,"c":-0.12},{"m":26.91,"c":-0.08},{"m":26.89,"c":0.03},{"m":26.90,"c":0.09},{"m":26.92,"c":0.18},{"m":26.88,"c":0.28},{"m":26.91,"c":0.32},
{"m":26.98,"c":-0.32},{"m":27.01,"c":-0.21},{"m":26.99,"c":-0.15},{"m":27.00,"c":-0.06},{"m":27.02,"c":0.04},{"m":26.98,"c":0.08},{"m":27.01,"c":0.19},{"m":26.99,"c":0.25},{"m":27.00,"c":0.34},{"m":27.02,"c":0.44},
{"m":27.11,"c":-0.31},{"m":27.09,"c":-0.22},{"m":27.10,"c":-0.12},{"m":27.12,"c":-0.08},{"m":27.08,"c":0.03},{"m":27.11,"c":0.09},{"m":27.09,"c":0.18},{"m":27.10,"c":0.28},{"m":27.12,"c":0.32},{"m":27.08,"c":0.43},
{"m":27.19,"c":-0.28},{"m":27.20,"c":-0.24},{"m":27.22,"c":-0.13},{"m":27.18,"c":-0.07},{"m":27.21,"c":0.02},{"m":27.19,"c":0.12},{"m":27.20,"c":0.16},{"m":27.22,"c":0.27},{"m":27.18,"c":0.33},{"m":27.21,"c":0.42},
{"m":27.30,"c":-0.29},{"m":27.32,"c":-0.23},{"m":27.28,"c":-0.14},{"m":27.31,"c":-0.04},{"m":27.29,"c":0.00},{"m":27.30,"c":0.11},{"m":27.32,"c":0.17},{"m":27.28,"c":0.26},{"m":27.31,"c":0.36},{"m":27.29,"c":0.40},
{"m":27.42,"c":-0.30},{"m":27.38,"c":-0.20},{"m":27.41,"c":-0.16},{"m":27.39,"c":-0.05},{"m":27.40,"c":0.01},{"m":27.42,"c":0.10},{"m":27.38,"c":0.20},{"m":27.41,"c":0.24},{"m":27.39,"c":0.35},{"m":27.40,"c":0.41},
{"m":27.48,"c":-0.32},{"m":27.51,"c":-0.21},{"m":27.49,"c":-0.15},{"m":27.50,"c":-0.06},{"m":27.52,"c":0.04},{"m":27.48,"c":0.08},{"m":27.51,"c":0.19},{"m":27.49,"c":0.25},{"m":27.50,"c":0.34},{"m":27.52,"c":0.44},
{"m":27.61,"c":-0.31},{"m":27.59,"c":-0.22},{"m":27.60,"c":-0.12},{"m":27.62,"c":-0.08},{"m":27.58,"c":0.03},{"m":27.61,"c":0.09},{"m":27.59,"c":0.18},{"m":27.60,"c":0.28},{"m":27.62,"c":0.32},{"m":27.58,"c":0.43},
{"m":27.69,"c":-0.28},{"m":27.70,"c":-0.24},{"m":27.72,"c":-0.13},{"m":27.68,"c":-0.07},{"m":27.71,"c":0.02},{"m":27.69,"c":0.12},{"m":27.70,"c":0.16},{"m":27.72,"c":0.27},{"m":27.68,"c":0.33},{"m":27.71,"c":0.42},
{"m":27.80,"c":-0.29},{"m":27.82,"c":-0.23},{"m":27.78,"c":-0.14},{"m":27.81,"c":-0.04},{"m":27.79,"c":0.00},{"m":27.80,"c":0.11},{"m":27.82,"c":0.17},{"m":27.78,"c":0.26},{"m":27.81,"c":0.36},{"m":27.79,"c":0.40},
{"m":27.92,"c":-0.30},{"m":27.88,"c":-0.20},{"m":27.91,"c":-0.16},{"m":27.89,"c":-0.05},{"m":27.90,"c":0.01},{"m":27.92,"c":0.10},{"m":27.88,"c":0.20},{"m":27.91,"c":0.24},{"m":27.89,"c":0.35},{"m":27.90,"c":0.41},
{"m":27.98,"c":-0.32},{"m":28.01,"c":-0.21},{"m":27.99,"c":-0.15},{"m":28.00,"c":-0.06},{"m":28.02,"c":0.04},{"m":27.98,"c":0.08},{"m":28.01,"c":0.19},{"m":27.99,"c":0.25},{"m":28.00,"c":0.34},{"m":28.02,"c":0.44},
{"m":28.11,"c":-0.31},{"m":28.09,"c":-0.22},{"m":28.10,"c":-0.12},{"m":28.12,"c":-0.08},{"m":28.08,"c":0.03},{"m":28.11,"c":0.09},{"m":28.09,"c":0.18},{"m":28.10,"c":0.28},{"m":28.12,"c":0.32},{"m":28.08,"c":0.43},
{"m":28.19,"c":-0.28},{"m":28.20,"c":-0.24},{"m":28.22,"c":-0.13},{"m":28.18,"c":-0.07},{"m":28.21,"c":0.02},{"m":28.19,"c":0.12},{"m":28.20,"c":0.16},{"m":28.22,"c":0.27},{"m":28.18,"c":0.33},{"m":28.21,"c":0.42},
{"m":28.30,"c":-0.29},{"m":28.32,"c":-0.23},{"m":28.28,"c":-0.14},{"m":28.31,"c":-0.04},{"m":28.29,"c":0.00},{"m":28.30,"c":0.11},{"m":28.32,"c":0.17},{"m":28.28,"c":0.26},{"m":28.31,"c":0.36},{"m":28.29,"c":0.40},
{"m":28.42,"c":-0.30},{"m":28.38,"c":-0.20},{"m":28.41,"c":-0.16},{"m":28.39,"c":-0.05},{"m":28.40,"c":0.01},{"m":28.42,"c":0.10},{"m":28.38,"c":0.20},{"m":28.41,"c":0.24},{"m":28.39,"c":0.35},{"m":28.40,"c":0.41},
{"m":28.48,"c":-0.32},{"m":28.51,"c":-0.21},{"m":28.49,"c":-0.15},{"m":28.50,"c":-0.06},{"m":28.52,"c":0.04},{"m":28.48,"c":0.08},{"m":28.51,"c":0.19},{"m":28.49,"c":0.25},{"m":28.50,"c":0.34},{"m":28.52,"c":0.44},
{"m":28.61,"c":-0.31},{"m":28.59,"c":-0.22},{"m":28.60,"c":-0.12},{"m":28.62,"c":-0.08},{"m":28.58,"c":0.03},{"m":28.61,"c":0.09},{"m":28.59,"c":0.18},{"m":28.60,"c":0.28},{"m":28.62,"c":0.32},{"m":28.58,"c":0.43},
{"m":28.69,"c":-0.28},{"m":28.70,"c":-0.24},{"m":28.72,"c":-0.13},{"m":28.68,"c":-0.07},{"m":28.71,"c":0.02},{"m":28.69,"c":0.12},{"m":28.70,"c":0.16},{"m":28.72,"c":0.27},{"m":28.68,"c":0.33},{"m":28.71,"c":0.42},
{"m":28.80,"c":-0.29},{"m":28.82,"c":-0.23},{"m":28.78,"c":-0.14},{"m":28.81,"c":-0.04},{"m":28.79,"c":0.00},{"m":28.80,"c":0.11},{"m":28.82,"c":0.17},{"m":28.78,"c":0.26},{"m":28.81,"c":0.36},{"m":28.79,"c":0.40},
{"m":28.92,"c":-0.30},{"m":28.88,"c":-0.20},{"m":28.91,"c":-0.16},{"m":28.89,"c":-0.05},{"m":28.90,"c":0.01},{"m":28.92,"c":0.10},{"m":28.88,"c":0.20},{"m":28.91,"c":0.24},{"m":28.89,"c":0.35},{"m":28.90,"c":0.41},
{"m":25.53,"c":-0.17},{"m":25.54,"c":-0.11},{"m":25.52,"c":-0.02},{"m":25.55,"c":0.08},{"m":25.51,"c":0.12},{"m":25.54,"c":0.23},{"m":25.52,"c":0.30},
{"m":25.63,"c":-0.19},{"m":25.64,"c":-0.10},{"m":25.62,"c":0.00},{"m":25.65,"c":0.04},{"m":25.61,"c":0.15},{"m":25.64,"c":0.22},{"m":25.62,"c":0.32},
{"m":25.73,"c":-0.18},{"m":25.74,"c":-0.08},{"m":25.72,"c":-0.04},{"m":25.75,"c":0.07},{"m":25.71,"c":0.14},{"m":25.74,"c":0.24},{"m":25.72,"c":0.28},
{"m":25.83,"c":-0.16},{"m":25.84,"c":-0.12},{"m":25.82,"c":-0.01},{"m":25.85,"c":0.06},{"m":25.81,"c":0.16},{"m":25.84,"c":0.20},{"m":25.82,"c":0.31},
{"m":25.93,"c":-0.20},{"m":25.94,"c":-0.09},{"m":25.92,"c":-0.02},{"m":25.95,"c":0.08},{"m":25.91,"c":0.13},{"m":25.94,"c":0.22},{"m":25.92,"c":0.30},
{"m":26.03,"c":-0.17},{"m":26.04,"c":-0.10},{"m":26.02,"c":-0.03},{"m":26.05,"c":0.05},{"m":26.01,"c":0.15},{"m":26.04,"c":0.23},{"m":26.02,"c":0.29},
{"m":26.13,"c":-0.19},{"m":26.14,"c":-0.11},{"m":26.12,"c":0.00},{"m":26.15,"c":0.06},{"m":26.11,"c":0.14},{"m":26.14,"c":0.21},{"m":26.12,"c":0.31},
{"m":26.23,"c":-0.18},{"m":26.24,"c":-0.08},{"m":26.22,"c":-0.02},{"m":26.25,"c":0.07},{"m":26.21,"c":0.12},{"m":26.24,"c":0.23},{"m":26.22,"c":0.30},
{"m":26.33,"c":-0.16},{"m":26.34,"c":-0.10},{"m":26.32,"c":-0.04},{"m":26.35,"c":0.06},{"m":26.31,"c":0.16},{"m":26.34,"c":0.22},{"m":26.32,"c":0.28},
{"m":26.43,"c":-0.20},{"m":26.44,"c":-0.12},{"m":26.42,"c":-0.01},{"m":26.45,"c":0.08},{"m":26.41,"c":0.14},{"m":26.44,"c":0.20},{"m":26.42,"c":0.31},
{"m":26.53,"c":-0.17},{"m":26.54,"c":-0.09},{"m":26.52,"c":-0.02},{"m":26.55,"c":0.05},{"m":26.51,"c":0.13},{"m":26.54,"c":0.24},{"m":26.52,"c":0.30},
{"m":26.63,"c":-0.19},{"m":26.64,"c":-0.10},{"m":26.62,"c":-0.03},{"m":26.65,"c":0.07},{"m":26.61,"c":0.15},{"m":26.64,"c":0.22},{"m":26.62,"c":0.29},
{"m":26.73,"c":-0.18},{"m":26.74,"c":-0.11},{"m":26.72,"c":0.00},{"m":26.75,"c":0.06},{"m":26.71,"c":0.14},{"m":26.74,"c":0.21},{"m":26.72,"c":0.31},
{"m":26.83,"c":-0.16},{"m":26.84,"c":-0.08},{"m":26.82,"c":-0.02},{"m":26.85,"c":0.08},{"m":26.81,"c":0.12},{"m":26.84,"c":0.23},{"m":26.82,"c":0.30},
{"m":26.93,"c":-0.20},{"m":26.94,"c":-0.10},{"m":26.92,"c":-0.04},{"m":26.95,"c":0.06},{"m":26.91,"c":0.16},{"m":26.94,"c":0.22},{"m":26.92,"c":0.28},
{"m":27.03,"c":-0.41},{"m":27.04,"c":-0.35},{"m":27.02,"c":-0.26},{"m":27.05,"c":-0.16},{"m":27.01,"c":-0.12},{"m":27.03,"c":-0.01},{"m":27.04,"c":0.05},{"m":27.02,"c":0.14},{"m":27.05,"c":0.24},{"m":27.01,"c":0.28},{"m":27.03,"c":0.39},{"m":27.04,"c":0.45},{"m":27.02,"c":0.54},
{"m":27.12,"c":-0.43},{"m":27.15,"c":-0.34},{"m":27.11,"c":-0.24},{"m":27.13,"c":-0.20},{"m":27.14,"c":-0.09},{"m":27.12,"c":-0.03},{"m":27.15,"c":0.06},{"m":27.11,"c":0.16},{"m":27.13,"c":0.20},{"m":27.14,"c":0.31},{"m":27.12,"c":0.37},{"m":27.15,"c":0.46},{"m":27.11,"c":0.56},
{"m":27.21,"c":-0.42},{"m":27.23,"c":-0.32},{"m":27.24,"c":-0.28},{"m":27.22,"c":-0.17},{"m":27.25,"c":-0.11},{"m":27.21,"c":-0.02},{"m":27.23,"c":0.08},{"m":27.24,"c":0.12},{"m":27.22,"c":0.23},{"m":27.25,"c":0.29},{"m":27.21,"c":0.38},{"m":27.23,"c":0.48},{"m":27.24,"c":0.52},
{"m":27.34,"c":-0.40},{"m":27.32,"c":-0.36},{"m":27.35,"c":-0.25},{"m":27.31,"c":-0.19},{"m":27.33,"c":-0.10},{"m":27.34,"c":0.00},{"m":27.32,"c":0.04},{"m":27.35,"c":0.15},{"m":27.31,"c":0.21},{"m":27.33,"c":0.30},{"m":27.34,"c":0.40},{"m":27.32,"c":0.44},{"m":27.35,"c":0.55},
{"m":27.45,"c":-0.44},{"m":27.41,"c":-0.33},{"m":27.43,"c":-0.27},{"m":27.44,"c":-0.18},{"m":27.42,"c":-0.08},{"m":27.45,"c":-0.04},{"m":27.41,"c":0.07},{"m":27.43,"c":0.13},{"m":27.44,"c":0.22},{"m":27.42,"c":0.32},{"m":27.45,"c":0.36},{"m":27.41,"c":0.47},{"m":27.43,"c":0.53},
{"m":27.53,"c":-0.41},{"m":27.54,"c":-0.35},{"m":27.52,"c":-0.26},{"m":27.55,"c":-0.16},{"m":27.51,"c":-0.12},{"m":27.53,"c":-0.01},{"m":27.54,"c":0.05},{"m":27.52,"c":0.14},{"m":27.55,"c":0.24},{"m":27.51,"c":0.28},{"m":27.53,"c":0.39},{"m":27.54,"c":0.45},{"m":27.52,"c":0.54},
{"m":27.62,"c":-0.43},{"m":27.65,"c":-0.34},{"m":27.61,"c":-0.24},{"m":27.63,"c":-0.20},{"m":27.64,"c":-0.09},{"m":27.62,"c":-0.03},{"m":27.65,"c":0.06},{"m":27.61,"c":0.16},{"m":27.63,"c":0.20},{"m":27.64,"c":0.31},{"m":27.62,"c":0.37},{"m":27.65,"c":0.46},{"m":27.61,"c":0.56},
{"m":27.71,"c":-0.42},{"m":27.73,"c":-0.32},{"m":27.74,"c":-0.28},{"m":27.72,"c":-0.17},{"m":27.75,"c":-0.11},{"m":27.71,"c":-0.02},{"m":27.73,"c":0.08},{"m":27.74,"c":0.12},{"m":27.72,"c":0.23},{"m":27.75,"c":0.29},{"m":27.71,"c":0.38},{"m":27.73,"c":0.48},{"m":27.74,"c":0.52},
{"m":27.84,"c":-0.40},{"m":27.82,"c":-0.36},{"m":27.85,"c":-0.25},{"m":27.81,"c":-0.19},{"m":27.83,"c":-0.10},{"m":27.84,"c":0.00},{"m":27.82,"c":0.04},{"m":27.85,"c":0.15},{"m":27.81,"c":0.21},{"m":27.83,"c":0.30},{"m":27.84,"c":0.40},{"m":27.82,"c":0.44},{"m":27.85,"c":0.55},
{"m":27.95,"c":-0.44},{"m":27.91,"c":-0.33},{"m":27.93,"c":-0.27},{"m":27.94,"c":-0.18},{"m":27.92,"c":-0.08},{"m":27.95,"c":-0.04},{"m":27.91,"c":0.07},{"m":27.93,"c":0.13},{"m":27.94,"c":0.22},{"m":27.92,"c":0.32},{"m":27.95,"c":0.36},{"m":27.91,"c":0.47},{"m":27.93,"c":0.53},
{"m":28.03,"c":-0.41},{"m":28.04,"c":-0.35},{"m":28.02,"c":-0.26},{"m":28.05,"c":-0.16},{"m":28.01,"c":-0.12},{"m":28.03,"c":-0.01},{"m":28.04,"c":0.05},{"m":28.02,"c":0.14},{"m":28.05,"c":0.24},{"m":28.01,"c":0.28},{"m":28.03,"c":0.39},{"m":28.04,"c":0.45},{"m":28.02,"c":0.54},
{"m":28.12,"c":-0.43},{"m":28.15,"c":-0.34},{"m":28.11,"c":-0.24},{"m":28.13,"c":-0.20},{"m":28.14,"c":-0.09},{"m":28.12,"c":-0.03},{"m":28.15,"c":0.06},{"m":28.11,"c":0.16},{"m":28.13,"c":0.20},{"m":28.14,"c":0.31},{"m":28.12,"c":0.37},{"m":28.15,"c":0.46},{"m":28.11,"c":0.56},
{"m":28.21,"c":-0.42},{"m":28.23,"c":-0.32},{"m":28.24,"c":-0.28},{"m":28.22,"c":-0.17},{"m":28.25,"c":-0.11},{"m":28.21,"c":-0.02},{"m":28.23,"c":0.08},{"m":28.24,"c":0.12},{"m":28.22,"c":0.23},{"m":28.25,"c":0.29},{"m":28.21,"c":0.38},{"m":28.23,"c":0.48},{"m":28.24,"c":0.52},
{"m":28.34,"c":-0.40},{"m":28.32,"c":-0.36},{"m":28.35,"c":-0.25},{"m":28.31,"c":-0.19},{"m":28.33,"c":-0.10},{"m":28.34,"c":0.00},{"m":28.32,"c":0.04},{"m":28.35,"c":0.15},{"m":28.31,"c":0.21},{"m":28.33,"c":0.30},{"m":28.34,"c":0.40},{"m":28.32,"c":0.44},{"m":28.35,"c":0.55},
{"m":28.45,"c":-0.44},{"m":28.41,"c":-0.33},{"m":28.43,"c":-0.27},{"m":28.44,"c":-0.18},{"m":28.42,"c":-0.08},{"m":28.45,"c":-0.04},{"m":28.41,"c":0.07},{"m":28.43,"c":0.13},{"m":28.44,"c":0.22},{"m":28.42,"c":0.32},{"m":28.45,"c":0.36},{"m":28.41,"c":0.47},{"m":28.43,"c":0.53},
{"m":28.53,"c":-0.41},{"m":28.54,"c":-0.35},{"m":28.52,"c":-0.26},{"m":28.55,"c":-0.16},{"m":28.51,"c":-0.12},{"m":28.53,"c":-0.01},{"m":28.54,"c":0.05},{"m":28.52,"c":0.14},{"m":28.55,"c":0.24},{"m":28.51,"c":0.28},{"m":28.53,"c":0.39},{"m":28.54,"c":0.45},{"m":28.52,"c":0.54},
{"m":28.62,"c":-0.43},{"m":28.65,"c":-0.34},{"m":28.61,"c":-0.24},{"m":28.63,"c":-0.20},{"m":28.64,"c":-0.09},{"m":28.62,"c":-0.03},{"m":28.65,"c":0.06},{"m":28.61,"c":0.16},{"m":28.63,"c":0.20},{"m":28.64,"c":0.31},{"m":28.62,"c":0.37},{"m":28.65,"c":0.46},{"m":28.61,"c":0.56},
{"m":28.71,"c":-0.42},{"m":28.73,"c":-0.32},{"m":28.74,"c":-0.28},{"m":28.72,"c":-0.17},{"m":28.75,"c":-0.11},{"m":28.71,"c":-0.02},{"m":28.73,"c":0.08},{"m":28.74,"c":0.12},{"m":28.72,"c":0.23},{"m":28.75,"c":0.29},{"m":28.71,"c":0.38},{"m":28.73,"c":0.48},{"m":28.74,"c":0.52},
{"m":28.84,"c":-0.40},{"m":28.82,"c":-0.36},{"m":28.85,"c":-0.25},{"m":28.81,"c":-0.19},{"m":28.83,"c":-0.10},{"m":28.84,"c":0.00},{"m":28.82,"c":0.04},{"m":28.85,"c":0.15},{"m":28.81,"c":0.21},{"m":28.83,"c":0.30},{"m":28.84,"c":0.40},{"m":28.82,"c":0.44},{"m":28.85,"c":0.55},
{"m":28.95,"c":-0.44},{"m":28.91,"c":-0.33},{"m":28.93,"c":-0.27},{"m":28.94,"c":-0.18},{"m":28.92,"c":-0.08},{"m":28.95,"c":-0.04},{"m":28.91,"c":0.07},{"m":28.93,"c":0.13},{"m":28.94,"c":0.22},{"m":28.92,"c":0.32},{"m":28.95,"c":0.36},{"m":28.91,"c":0.47},{"m":28.93,"c":0.53}
]},
"layer":[
{"layer":[
{"data":{"name":"pts"},
 "mark":{"type":"point","shape":"circle","filled":true,"color":"black","size":100,"opacity":1,"clip":true},
 "encoding":{
  "x":{"field":"m","type":"quantitative","scale":{"domain":[17,29],"nice":false,"zero":false},
   "axis":{"orient":"bottom","values":[18,20,22,24,26,28],"tickSize":-24,"labelFont":"Liberation Sans","labelFontSize":34,"labelPadding":45,"title":"SDSS i mag (F775W)","titleFont":"Liberation Serif","titleFontSize":49,"titleFontWeight":"normal","titleX":592,"titleY":102,"titleBaseline":"alphabetic","titleAlign":"center","titleAngle":0}},
  "y":{"field":"c","type":"quantitative","scale":{"domain":[-4.5,3.5],"nice":false,"zero":false},
   "axis":{"orient":"left","values":[-4,-2,0,2],"tickSize":-24,"labelFont":"Liberation Sans","labelFontSize":34,"labelPadding":47,"title":"Color","titleFont":"Liberation Serif","titleFontSize":62,"titleFontWeight":"normal","titleX":-95,"titleY":568.5,"titleAngle":270,"titleBaseline":"alphabetic","titleAlign":"center"}}}},
{"data":{"values":[{"label":"red sequence"}]},
 "mark":{"type":"point","shape":"M -1 0 C -1 -0.1051 -0.5523 -0.1903 0 -0.1903 C 0.5523 -0.1903 1 -0.1051 1 0 C 1 0.1051 0.5523 0.1903 0 0.1903 C -0.5523 0.1903 -1 0.1051 -1 0 Z","filled":false,"color":"#ff2a00","strokeWidth":4,"size":334084,"opacity":1},
 "encoding":{
  "x":{"datum":24.079,"type":"quantitative","scale":{"domain":[17,29],"nice":false,"zero":false},
   "axis":{"orient":"bottom","values":[19,21,23,25,27],"tickSize":-12,"labels":false,"title":null}},
  "y":{"datum":0.857,"type":"quantitative","scale":{"domain":[-4.5,3.5],"nice":false,"zero":false},
   "axis":{"orient":"left","values":[-3,-1,1,3],"tickSize":-12,"labels":false,"title":"i-z","titleFont":"Liberation Serif","titleFontSize":62,"titleFontStyle":"italic","titleFontWeight":"normal","titleX":-95,"titleY":700.5,"titleAngle":270,"titleBaseline":"alphabetic","titleAlign":"center"}}}},
{"data":{"values":[{"label":"RDCS1252-2927 (z=1.24)"}]},
 "mark":{"type":"text","font":"Liberation Serif","fontSize":53,"align":"left","baseline":"alphabetic","color":"black"},
 "encoding":{
  "text":{"field":"label"},
  "x":{"datum":17.746,"type":"quantitative","scale":{"domain":[17,29],"nice":false,"zero":false},
   "axis":{"orient":"top","values":[18,20,22,24,26,28],"tickSize":-24,"labels":false,"title":null}},
  "y":{"datum":2.6695,"type":"quantitative","scale":{"domain":[-4.5,3.5],"nice":false,"zero":false},
   "axis":{"orient":"right","values":[-4,-2,0,2],"tickSize":-24,"labels":false,"title":null}}}},
{"mark":{"type":"point","opacity":0},
 "encoding":{
  "x":{"datum":24,"type":"quantitative","scale":{"domain":[17,29],"nice":false,"zero":false},
   "axis":{"orient":"top","values":[19,21,23,25,27],"tickSize":-12,"labels":false,"title":null}},
  "y":{"datum":0,"type":"quantitative","scale":{"domain":[-4.5,3.5],"nice":false,"zero":false},
   "axis":{"orient":"right","values":[-3,-1,1,3],"tickSize":-12,"labels":false,"title":null}}}}
],
"resolve":{"axis":{"x":"independent","y":"independent"}}},
{"layer":[
{"data":{"values":[{"panel":"inset"}]},
 "mark":{"type":"rect","filled":false,"stroke":"black","strokeWidth":2},
 "encoding":{
  "x":{"datum":-2.23,"type":"quantitative","scale":{"domain":[-3.369,7.203],"nice":false,"zero":false},"axis":null},
  "x2":{"datum":2.22},
  "y":{"datum":-4.6,"type":"quantitative","scale":{"domain":[-33.27,234.42],"nice":false,"zero":false},"axis":null},
  "y2":{"datum":88.2}}},
{"data":{"name":"mirror"},
 "mark":{"type":"line","interpolate":"step-after","color":"#333333","strokeWidth":2,"strokeDash":[2,5]},
 "encoding":{
  "x":{"field":"hx","type":"quantitative","scale":{"domain":[-3.369,7.203],"nice":false,"zero":false},
   "axis":{"orient":"bottom","offset":-129.3,"values":[-1.8,-1.6,-1.4,-1.2,-0.8,-0.6,-0.4,-0.2,0.2,0.4,0.6,0.8,1.2,1.4,1.6,1.8],"tickSize":-10,"labels":false,"title":null}},
  "y":{"field":"n","type":"quantitative","scale":{"domain":[-33.27,234.42],"nice":false,"zero":false},
   "axis":{"orient":"left","offset":-130.04,"values":[5,10,15,25,30,35,45,50,55,65,70,75,85],"tickSize":-10,"labels":false,"title":null}}}},
{"data":{"name":"hist"},
 "mark":{"type":"line","interpolate":"step-after","color":"black","strokeWidth":2.5},
 "encoding":{
  "x":{"field":"hx","type":"quantitative","scale":{"domain":[-3.369,7.203],"nice":false,"zero":false},
   "axis":{"orient":"bottom","offset":-129.3,"values":[-2,-1,0,1,2],"tickSize":-20,"labelFont":"DejaVu Sans","labelFontSize":28,"labelPadding":37.6,"title":"(i-z)","titleFont":"Liberation Serif","titleFontSize":34,"titleFontWeight":"bold","titleX":389,"titleY":89.3,"titleBaseline":"alphabetic","titleAlign":"center","titleAngle":0}},
  "y":{"field":"n","type":"quantitative","scale":{"domain":[-33.27,234.42],"nice":false,"zero":false},
   "axis":{"orient":"left","offset":-130.04,"values":[0,20,40,60,80],"tickSize":-20,"labelFont":"DejaVu Sans","labelFontSize":28,"labelPadding":38,"title":null}}}},
{"data":{"values":[{"label":"red sequence peak"}]},
 "mark":{"type":"rule","color":"#ff2a00","strokeWidth":3.5},
 "encoding":{
  "x":{"datum":0.923,"type":"quantitative","scale":{"domain":[-3.369,7.203],"nice":false,"zero":false},
   "axis":{"orient":"top","offset":-659.3,"values":[-2,-1,0,1,2],"tickSize":-20,"labels":false,"title":null}},
  "y":{"datum":59,"type":"quantitative","scale":{"domain":[-33.27,234.42],"nice":false,"zero":false},
   "axis":{"orient":"right","offset":-568.9,"values":[0,20,40,60,80],"tickSize":-20,"labels":false,"title":null}},
  "y2":{"datum":43.3}}},
{"data":{"values":[{"label":"red sequence peak"}]},
 "mark":{"type":"point","shape":"M -1 -1 L 1 -1 L 0 1 Z","filled":true,"color":"#ff2a00","size":625,"opacity":1},
 "encoding":{
  "x":{"datum":0.923,"type":"quantitative","scale":{"domain":[-3.369,7.203],"nice":false,"zero":false},
   "axis":{"orient":"top","offset":-659.3,"values":[-1.8,-1.6,-1.4,-1.2,-0.8,-0.6,-0.4,-0.2,0.2,0.4,0.6,0.8,1.2,1.4,1.6,1.8],"tickSize":-10,"labels":false,"title":null}},
  "y":{"datum":40.5,"type":"quantitative","scale":{"domain":[-33.27,234.42],"nice":false,"zero":false},
   "axis":{"orient":"right","offset":-568.9,"values":[5,10,15,25,30,35,45,50,55,65,70,75,85],"tickSize":-10,"labels":false,"title":null}}}},
{"data":{"values":[{"label":"20\u00a0 <\u00a0 i\u00a0 <\u00a0 26"}]},
 "mark":{"type":"text","font":"DejaVu Sans","fontSize":22,"align":"left","baseline":"alphabetic","color":"black"},
 "encoding":{
  "text":{"field":"label"},
  "x":{"datum":-1.766,"type":"quantitative","scale":{"domain":[-3.369,7.203],"nice":false,"zero":false},"axis":null},
  "y":{"datum":74.3,"type":"quantitative","scale":{"domain":[-33.27,234.42],"nice":false,"zero":false},"axis":null}}}
],
"resolve":{"axis":{"x":"independent","y":"independent"}}}
],
"resolve":{"scale":{"x":"independent","y":"independent"}}
}
